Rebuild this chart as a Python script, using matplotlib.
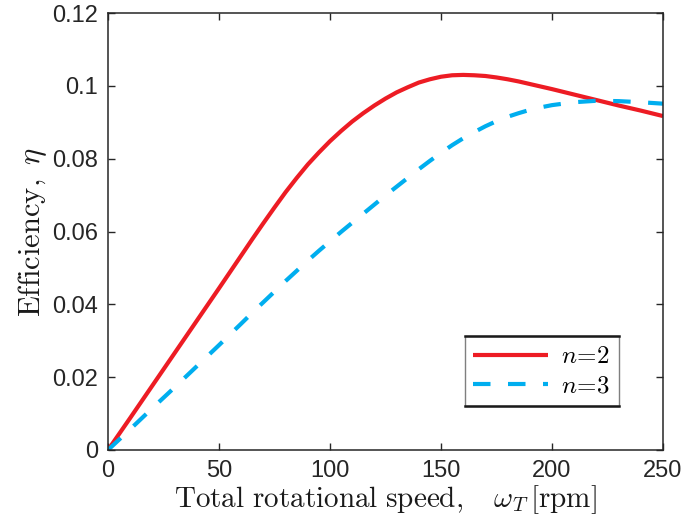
import matplotlib
matplotlib.use("Agg")
import matplotlib.pyplot as plt
from matplotlib.lines import Line2D

# total rotational speed [rpm]
omega = [0, 10, 20, 30, 40, 50,
         60, 65, 70, 75, 80, 85, 90, 95, 100, 105, 110, 115, 120, 125, 130,
         135, 140, 145, 150, 155, 160, 165, 170, 175, 180, 185, 190, 195, 200,
         210, 220, 230, 240, 250]
# efficiency, n=2
eta_n2 = [0, 0.0088, 0.0177, 0.0266, 0.0355, 0.0444,
          0.0534, 0.0579, 0.0623, 0.0666, 0.0708, 0.0747, 0.0784, 0.0817, 0.0848,
          0.0876, 0.0902, 0.0925, 0.0946, 0.0965, 0.0982, 0.0996, 0.1009, 0.1018,
          0.1025, 0.1029, 0.1030, 0.1029, 0.1027, 0.1023, 0.1018, 0.1012, 0.1005,
          0.0998, 0.0991,
          0.0976, 0.0961, 0.0946, 0.0932, 0.0917]
# efficiency, n=3
eta_n3 = [0, 0.0057, 0.0115, 0.0172, 0.0230, 0.0288,
          0.0347, 0.0377, 0.0406, 0.0435, 0.0464, 0.0492, 0.0520, 0.0547, 0.0573,
          0.0599, 0.0624, 0.0649, 0.0674, 0.0699, 0.0723, 0.0747, 0.0771, 0.0794,
          0.0816, 0.0837, 0.0856, 0.0873, 0.0889, 0.0903, 0.0915, 0.0925, 0.0934,
          0.0941, 0.0947,
          0.0955, 0.0959, 0.0958, 0.0955, 0.0951]

xticks = [0, 50, 100, 150, 200, 250]
yticks = [0, 0.02, 0.04, 0.06, 0.08, 0.1, 0.12]
ytick_labels = ['0', '0.02', '0.04', '0.06', '0.08', '0.1', '0.12']
labels = [r'$n\!=\!2$', r'$n\!=\!3$']

plt.rcParams['mathtext.fontset'] = 'cm'
plt.rcParams['font.family'] = ['Liberation Sans', 'DejaVu Sans']

fig = plt.figure(figsize=(6.87, 5.23), dpi=100)
ax = fig.add_axes([108/687, 73/523, 555/687, 437/523])

red = '#ed1c24'
blue = '#00aeef'
ax.plot(omega, eta_n2, color=red, lw=3.0, label=labels[0], solid_capstyle='butt')
ax.plot(omega, eta_n3, color=blue, lw=3.0, linestyle=(0, (4.2, 4.2)),
        label=labels[1], dash_capstyle='butt')

ax.set_xlim(0, 250)
ax.set_ylim(0, 0.12)
ax.set_xticks(xticks)
ax.set_yticks(yticks)
ax.set_yticklabels(ytick_labels)

gray = '#262626'
for s in ax.spines.values():
    s.set_color(gray)
    s.set_linewidth(1.1)
ax.tick_params(direction='in', length=5, width=1.0, color=gray, labelcolor=gray,
               labelsize=17, top=True, right=True, pad=7)

ax.set_xlabel(r'$\mathrm{Total\ rotational\ speed,}\ \ \ \omega_T\,[\mathrm{rpm}]$',
              fontsize=21, color='#1a1a1a', labelpad=1)
ax.set_ylabel(r'$\mathrm{Efficiency,}\ \eta$', fontsize=22, color='#1a1a1a', labelpad=2)

leg = ax.legend(loc='lower right', bbox_to_anchor=(1 - 44/555, 44/437),
                borderaxespad=0, fontsize=18, handlelength=3.0, handletextpad=0.5,
                borderpad=0.35, labelspacing=0.2, fancybox=False, framealpha=1)
leg.get_frame().set_edgecolor('#7f7f7f')
leg.get_frame().set_linewidth(1.0)

# MATLAB-ish legend box: heavier top and bottom edges
fig.canvas.draw()
bb = leg.get_frame().get_window_extent().transformed(fig.transFigure.inverted())
for yy in (bb.y0, bb.y1):
    fig.add_artist(Line2D([bb.x0, bb.x1], [yy, yy], color='#1a1a1a', lw=1.8))

fig.savefig('out.png', dpi=100)
